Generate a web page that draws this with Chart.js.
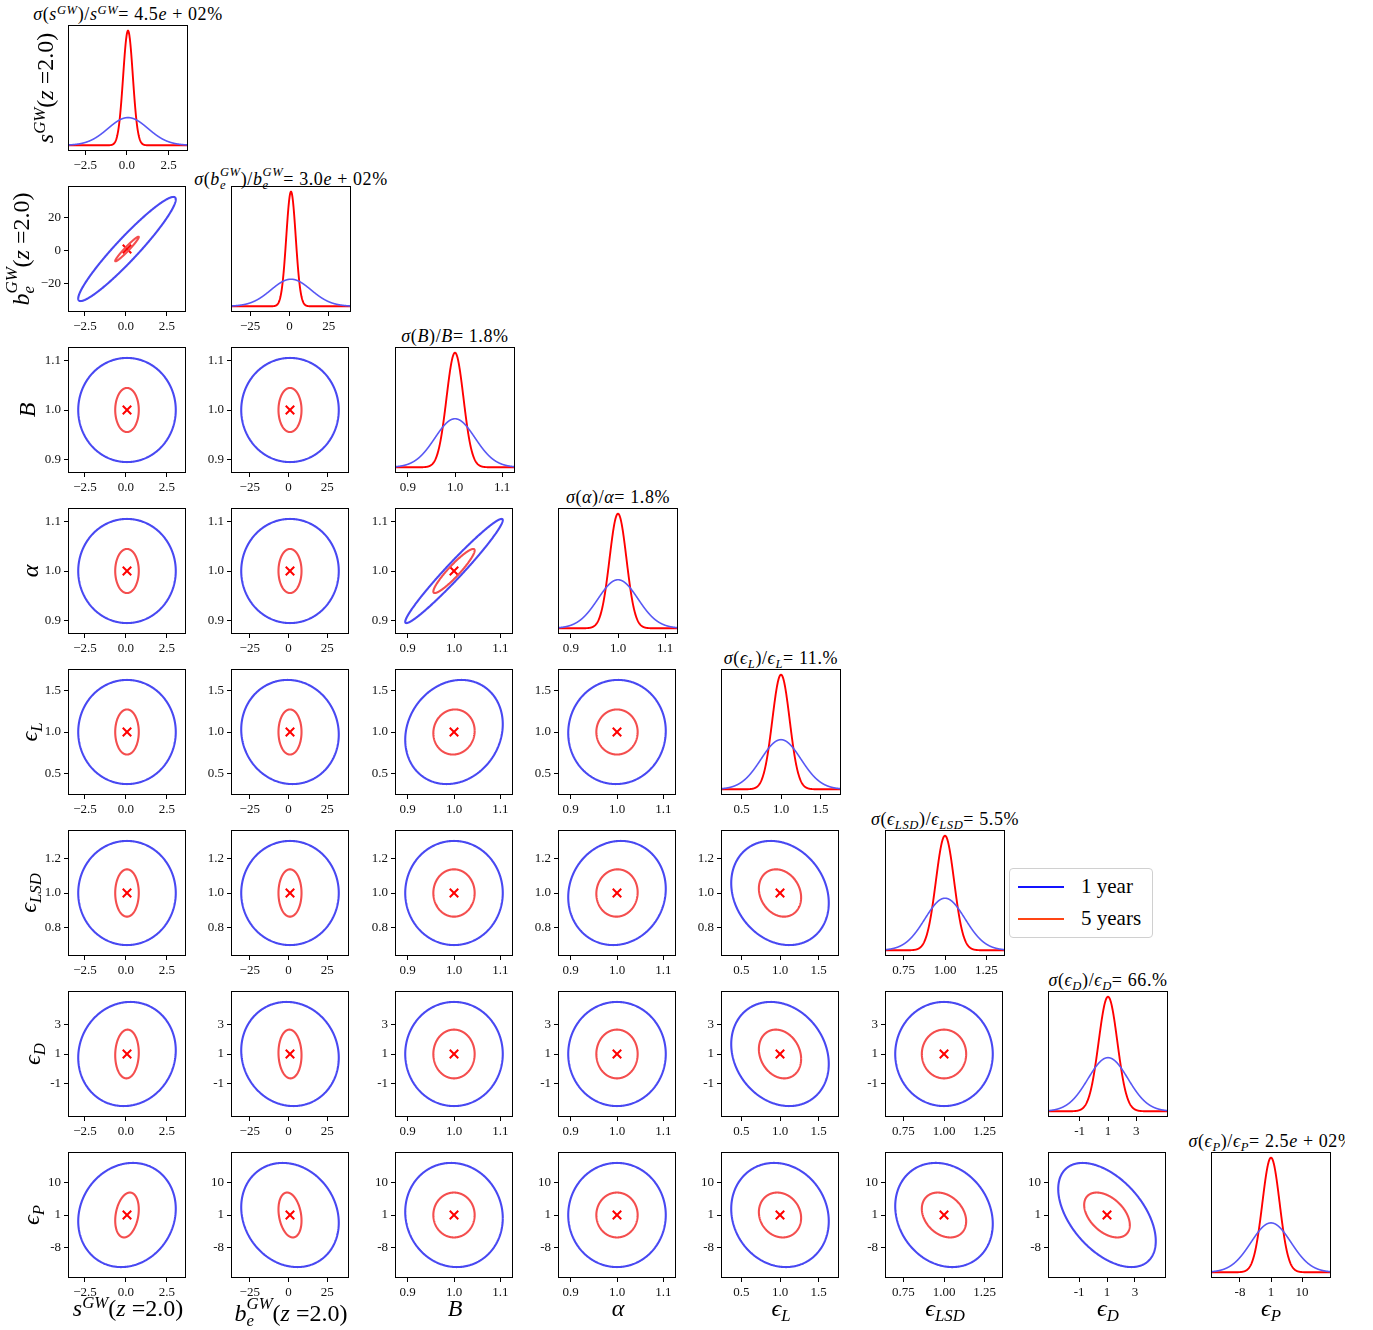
<!DOCTYPE html>
<html>
<head>
<meta charset="utf-8">
<script src="https://cdn.jsdelivr.net/npm/chart.js@4.4.1/dist/chart.umd.min.js"></script>
<style>
  html, body { margin: 0; padding: 0; background: #fff; }
  #fig { position: relative; width: 1373px; height: 1330px; overflow: hidden; background: #fff;
         font-family: "Liberation Serif", "DejaVu Serif", serif; color: #000; }
  #fig canvas { position: absolute; }
  #titles { position: absolute; left: 0; top: 0; width: 1345px; height: 1330px; overflow: hidden; }
  .title { position: absolute; white-space: nowrap; transform: translateX(-50%); font-size: 18px;
           line-height: 18px; letter-spacing: 0.6px; }
  .xlab { position: absolute; white-space: nowrap; transform: translateX(-50%); font-size: 24px; line-height: 24px; }
  .ylab { position: absolute; white-space: nowrap; transform: translate(-50%, -50%) rotate(-90deg);
          font-size: 24px; line-height: 24px; }
  sup { font-size: 0.7em; vertical-align: 0.45em; line-height: 0; }
  sub { font-size: 0.7em; vertical-align: -0.3em; line-height: 0; }
  .ss { display: inline-block; font-size: 0.7em; line-height: 1em; vertical-align: -0.3em; font-style: italic; }
  .ss span { display: block; }
  #legend { position: absolute; left: 1009px; top: 868px; width: 142px; height: 68px;
            border: 1px solid #d0d0d0; border-radius: 4px; background: #fff; }
  .lg-line { position: absolute; left: 8px; width: 46px; height: 2px; }
  .lg-text { position: absolute; left: 71px; font-size: 21px; line-height: 21px; }
</style>
</head>
<body>
<div id="fig"><div id="titles"></div></div>
<script>
// ---------------- DATA ----------------
const paramKeys   = ['sGW', 'beGW', 'B', 'alpha', 'epsL', 'epsLSD', 'epsD', 'epsP'];
const fiducial    = [0.064, 1.0, 1.0, 1.0, 1.0, 1.0, 1.0, 1.0];
const sigma1yr    = [1.2, 12.7, 0.0425, 0.0425, 0.254, 0.121, 1.41, 5.8];
const sigma5yr    = [0.29, 3.0, 0.018, 0.018, 0.11, 0.055, 0.66, 2.5];
// correlation coefficients (row param i, column param j < i)
const corr1yr = [
  [],
  [0.95],
  [0.0, 0.0],
  [0.0, 0.0, 0.975],
  [0.0, -0.05, 0.15, 0.02],
  [0.0, 0.0, 0.0, 0.08, -0.19],
  [0.07, -0.07, 0.0, 0.0, -0.19, 0.0],
  [0.12, -0.15, -0.06, 0.0, -0.12, -0.17, -0.5]
];
const corr5yr = [
  [],
  [0.97],
  [0.0, 0.0],
  [0.0, 0.0, 0.93],
  [0.0, 0.0, 0.05, 0.0],
  [0.0, 0.0, 0.0, 0.03, -0.19],
  [0.05, -0.05, 0.0, 0.0, -0.2, 0.0],
  [0.25, -0.25, 0.0, 0.0, -0.13, -0.28, -0.45]
];
const xTickValues = [[-2.5, 0, 2.5], [-25, 0, 25], [0.9, 1.0, 1.1], [0.9, 1.0, 1.1],
                     [0.5, 1.0, 1.5], [0.75, 1.0, 1.25], [-1, 1, 3], [-8, 1, 10]];
const xTickLabels = [['−2.5', '0.0', '2.5'], ['−25', '0', '25'], ['0.9', '1.0', '1.1'], ['0.9', '1.0', '1.1'],
                     ['0.5', '1.0', '1.5'], ['0.75', '1.00', '1.25'], ['-1', '1', '3'], ['-8', '1', '10']];
const yTickValues = [[], [20, 0, -20], [0.9, 1.0, 1.1], [0.9, 1.0, 1.1],
                     [0.5, 1.0, 1.5], [0.8, 1.0, 1.2], [-1, 1, 3], [-8, 1, 10]];
const yTickLabels = [[], ['20', '0', '−20'], ['0.9', '1.0', '1.1'], ['0.9', '1.0', '1.1'],
                     ['0.5', '1.0', '1.5'], ['0.8', '1.0', '1.2'], ['-1', '1', '3'], ['-8', '1', '10']];
const seriesNames = ['1 year', '5 years'];
const titleTexts = [
  '<i>σ</i>(<i>s</i><sup><i>GW</i></sup>)/<i>s</i><sup><i>GW</i></sup>= 4.5<i>e</i> + 02%',
  '<i>σ</i>(<i>b</i><span class="ss"><span>GW</span><span>e</span></span>)/<i>b</i><span class="ss"><span>GW</span><span>e</span></span>= 3.0<i>e</i> + 02%',
  '<i>σ</i>(<i>B</i>)/<i>B</i>= 1.8%',
  '<i>σ</i>(<i>α</i>)/<i>α</i>= 1.8%',
  '<i>σ</i>(<i>ϵ</i><sub><i>L</i></sub>)/<i>ϵ</i><sub><i>L</i></sub>= 11.%',
  '<i>σ</i>(<i>ϵ</i><sub><i>LSD</i></sub>)/<i>ϵ</i><sub><i>LSD</i></sub>= 5.5%',
  '<i>σ</i>(<i>ϵ</i><sub><i>D</i></sub>)/<i>ϵ</i><sub><i>D</i></sub>= 66.%',
  '<i>σ</i>(<i>ϵ</i><sub><i>P</i></sub>)/<i>ϵ</i><sub><i>P</i></sub>= 2.5<i>e</i> + 02%'
];
const axisLabelTexts = [
  '<i>s</i><sup><i>GW</i></sup>(<i>z</i> =2.0)',
  '<i>b</i><span class="ss"><span>GW</span><span>e</span></span>(<i>z</i> =2.0)',
  '<i>B</i>',
  '<i>α</i>',
  '<i>ϵ</i><sub><i>L</i></sub>',
  '<i>ϵ</i><sub><i>LSD</i></sub>',
  '<i>ϵ</i><sub><i>D</i></sub>',
  '<i>ϵ</i><sub><i>P</i></sub>'
];

// ---------------- STYLE / LAYOUT ----------------
const N = 8;
const K = 2.48;                 // contour scale
const PW = 120, PH = 126;
const YW = 44, XH = 26, PADT = 12, PADR = 6;
const ylabX = [45, 21, 27, 30, 29, 28, 32, 31];
const COL_BLUE_ELL = 'rgb(72,72,242)';
const COL_RED_ELL  = 'rgb(244,78,78)';
const COL_BLUE_PDF = 'rgb(88,88,244)';
const COL_RED_PDF  = 'rgb(255,0,0)';
const FONT_TICK = { family: 'Liberation Serif', size: 13 };

function panelLeft(j) { return Math.round(68 + 163.3 * j); }
function panelTop(i)  { return Math.round(24.5 + 161 * i); }
function axisRange(p) { return [fiducial[p] - 3 * sigma1yr[p], fiducial[p] + 3 * sigma1yr[p]]; }

function ellipsePoints(mx, my, sx, sy, rho) {
  const pts = [], n = 240, q = Math.sqrt(1 - rho * rho);
  for (let t = 0; t <= n; t++) {
    const a = 2 * Math.PI * t / n, u = Math.cos(a), v = Math.sin(a);
    pts.push({ x: mx + K * sx * u, y: my + K * sy * (rho * u + q * v) });
  }
  return pts;
}
function gaussPoints(mu, s, min, max) {
  const pts = [], n = 400;
  for (let t = 0; t <= n; t++) {
    const x = min + (max - min) * t / n;
    pts.push({ x: x, y: Math.exp(-0.5 * ((x - mu) / s) ** 2) / (s * Math.sqrt(2 * Math.PI)) });
  }
  return pts;
}

const framePlugin = {
  id: 'frame',
  afterDraw(chart) {
    const a = chart.chartArea, ctx = chart.ctx;
    ctx.save();
    ctx.strokeStyle = '#000';
    ctx.lineWidth = 1;
    ctx.strokeRect(Math.round(a.left) + 0.5, Math.round(a.top) + 0.5,
                   Math.round(a.right - a.left) - 1, Math.round(a.bottom - a.top) - 1);
    ctx.restore();
  }
};

function makeAxis(min, max, vals, labels, show, isY) {
  return {
    type: 'linear', min: min, max: max,
    afterBuildTicks(s) { s.ticks = vals.map(v => ({ value: v })); },
    afterFit(s) {
      if (isY) s.width = YW; else s.height = XH;
      s.paddingTop = 0; s.paddingBottom = 0; s.paddingLeft = 0; s.paddingRight = 0;
    },
    ticks: { display: show, autoSkip: false, maxRotation: 0, minRotation: 0, padding: 3,
             color: '#111', font: FONT_TICK, callback: (v, i) => labels[i] },
    grid: { display: show, drawOnChartArea: false, drawTicks: show, tickLength: 4,
            color: '#000', lineWidth: 1 },
    border: { display: false }
  };
}

const fig = document.getElementById('fig');
const titleLayer = document.getElementById('titles');

function addCanvas(i, j) {
  const c = document.createElement('canvas');
  const w = YW + PW + PADR, h = PADT + PH + XH;
  c.width = w; c.height = h;
  c.style.width = w + 'px'; c.style.height = h + 'px';
  c.style.left = (panelLeft(j) - YW) + 'px';
  c.style.top = (panelTop(i) - PADT) + 'px';
  fig.appendChild(c);
  return c;
}

function baseOptions(xAxis, yAxis) {
  return {
    responsive: false, animation: false, events: [],
    layout: { padding: { left: 0, top: PADT, right: PADR, bottom: 0 } },
    plugins: { legend: { display: false }, tooltip: { enabled: false } },
    scales: { x: xAxis, y: yAxis }
  };
}

for (let i = 0; i < N; i++) {
  for (let j = 0; j <= i; j++) {
    const cv = addCanvas(i, j);
    const [xmin, xmax] = axisRange(j);
    const xAxis = makeAxis(xmin, xmax, xTickValues[j], xTickLabels[j], true, false);
    let datasets, yAxis;
    if (i === j) {
      const peak = 1 / (sigma5yr[i] * Math.sqrt(2 * Math.PI));
      yAxis = makeAxis(-0.05 * peak, 1.05 * peak, [], [], false, true);
      datasets = [
        { label: seriesNames[0], data: gaussPoints(fiducial[i], sigma1yr[i], xmin, xmax), showLine: true,
          borderColor: COL_BLUE_PDF, borderWidth: 1.6, pointRadius: 0, fill: false, tension: 0.001 },
        { label: seriesNames[1], data: gaussPoints(fiducial[i], sigma5yr[i], xmin, xmax), showLine: true,
          borderColor: COL_RED_PDF, borderWidth: 1.9, pointRadius: 0, fill: false, tension: 0.001 }
      ];
    } else {
      const [ymin, ymax] = axisRange(i);
      yAxis = makeAxis(ymin, ymax, yTickValues[i], yTickLabels[i], true, true);
      datasets = [
        { label: seriesNames[0],
          data: ellipsePoints(fiducial[j], fiducial[i], sigma1yr[j], sigma1yr[i], corr1yr[i][j]),
          showLine: true, borderColor: COL_BLUE_ELL, borderWidth: 2.1, pointRadius: 0, fill: false, tension: 0.001 },
        { label: seriesNames[1],
          data: ellipsePoints(fiducial[j], fiducial[i], sigma5yr[j], sigma5yr[i], corr5yr[i][j]),
          showLine: true, borderColor: COL_RED_ELL, borderWidth: 2.1, pointRadius: 0, fill: false, tension: 0.001 },
        { label: 'fiducial', data: [{ x: fiducial[j], y: fiducial[i] }], showLine: false,
          pointStyle: 'crossRot', pointRadius: 6, pointBorderWidth: 2,
          pointBorderColor: '#ff0000', borderColor: '#ff0000', backgroundColor: '#ff0000' }
      ];
    }
    new Chart(cv.getContext('2d'), {
      type: 'scatter',
      data: { datasets: datasets },
      options: baseOptions(xAxis, yAxis),
      plugins: [framePlugin]
    });
  }
}

// titles above diagonal panels
for (let i = 0; i < N; i++) {
  const d = document.createElement('div');
  d.className = 'title';
  d.innerHTML = titleTexts[i];
  d.style.left = (panelLeft(i) + PW / 2) + 'px';
  d.style.top = (panelTop(i) - 20) + 'px';
  titleLayer.appendChild(d);
}
// bottom axis labels
for (let j = 0; j < N; j++) {
  const d = document.createElement('div');
  d.className = 'xlab';
  d.innerHTML = axisLabelTexts[j];
  d.style.left = (panelLeft(j) + PW / 2) + 'px';
  d.style.top = '1296px';
  fig.appendChild(d);
}
// left axis labels
for (let i = 0; i < N; i++) {
  const d = document.createElement('div');
  d.className = 'ylab';
  d.innerHTML = axisLabelTexts[i];
  d.style.left = ylabX[i] + 'px';
  d.style.top = (panelTop(i) + PH / 2) + 'px';
  fig.appendChild(d);
}
// legend
(function () {
  const lg = document.createElement('div');
  lg.id = 'legend';
  const cols = ['rgb(20,20,255)', 'rgb(255,69,20)'];
  seriesNames.forEach((name, k) => {
    const ln = document.createElement('div');
    ln.className = 'lg-line';
    ln.style.top = (17 + 32 * k) + 'px';
    ln.style.background = cols[k];
    lg.appendChild(ln);
    const tx = document.createElement('div');
    tx.className = 'lg-text';
    tx.style.top = (7 + 32 * k) + 'px';
    tx.textContent = name;
    lg.appendChild(tx);
  });
  fig.appendChild(lg);
})();
</script>
</body>
</html>
